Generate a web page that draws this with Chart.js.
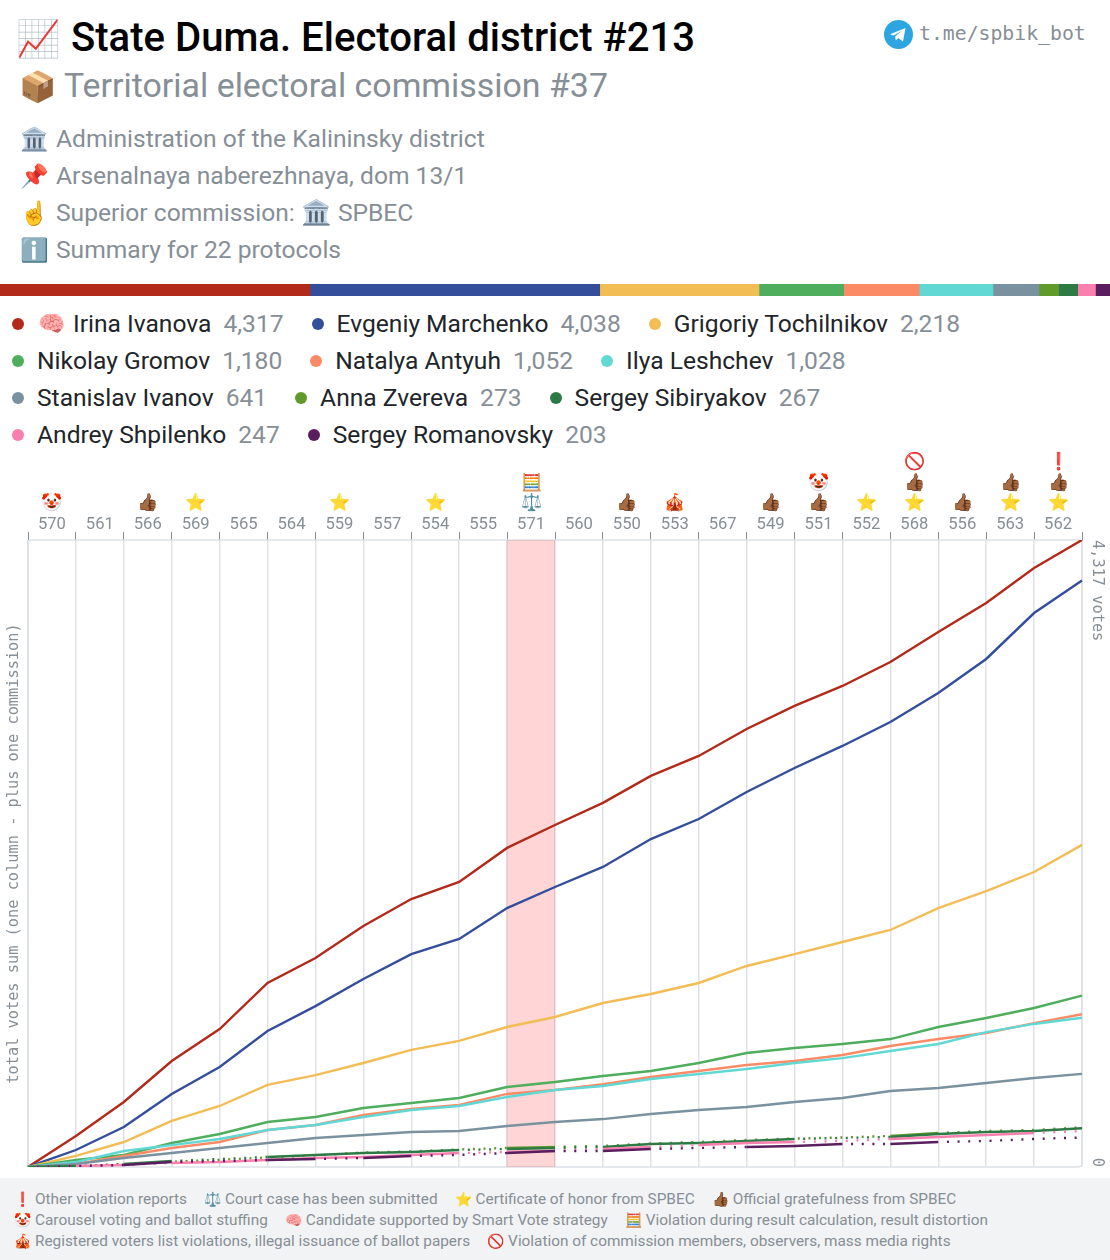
<!DOCTYPE html>
<html>
<head>
<meta charset="utf-8">
<script src="https://cdn.jsdelivr.net/npm/chart.js@4/dist/chart.umd.js"></script>
<style>
  html, body { margin: 0; padding: 0; background: #fff; }
  #page { position: relative; width: 1110px; height: 1260px; overflow: hidden; font-family: Roboto, sans-serif; color: #868e96; }
  #page > div, #page > canvas, #page > svg { position: absolute; }
  .row { left: 20px; font-size: 24.6px; line-height: 30px; white-space: nowrap; }
  .row .e { display: inline-block; width: 36px; font-size: 23px; }
  #title { left: 16px; top: 11px; font-size: 40.1px; font-weight: 500; line-height: 54px; color: #000; white-space: nowrap; }
  #title .e { display: inline-block; width: 55px; font-size: 36px; }
  #subtitle { left: 19px; top: 63px; font-size: 33.9px; line-height: 46px; white-space: nowrap; }
  #subtitle .e { display: inline-block; width: 45px; font-size: 30px; }
  #tg { left: 919px; top: 20px; font: 19.8px/28px "DejaVu Sans Mono", monospace; white-space: nowrap; }
  #legend { left: 12px; top: 305px; width: 1095px; display: flex; flex-wrap: wrap; font-size: 24.6px; line-height: 37px; }
  .item { display: flex; align-items: center; margin-right: 28px; white-space: nowrap; }
  .dot { width: 12px; height: 12px; border-radius: 50%; margin-right: 13px; flex: none; }
  .item b { font-weight: 400; color: #212529; margin-right: 12px; }
  .item .brain { font-size: 22px; margin: 0 8px 0 1px; }
  #footer { left: 0; top: 1178px; width: 1110px; height: 82px; background: #f2f3f4; }
  #notes { position: absolute; left: 14px; top: 11px; width: 1090px; display: flex; flex-wrap: wrap; font-size: 15.35px; line-height: 21px; }
  #notes span { margin-right: 17px; white-space: nowrap; }
  #notes i { font-style: normal; font-size: 14px; margin-right: 4px; }
</style>
</head>
<body>
<div id="page">
  <div id="title"><span class="e">📈</span>State Duma. Electoral district #213</div>
  <div id="subtitle"><span class="e">📦</span>Territorial electoral commission #37</div>
  <svg style="left:884px;top:20px" width="29" height="29" viewBox="0 0 29 29">
    <circle cx="14.5" cy="14.5" r="14.5" fill="#2ca5e0"/>
    <path d="M6 14.2 L21.5 8 L19 21.5 L14.2 18 L11.8 20.4 L11.2 16.2 L18.5 10.6 L9.6 15.6 Z" fill="#fff"/>
  </svg>
  <div id="tg">t.me/spbik_bot</div>
  <div class="row" style="top:124px"><span class="e">🏛️</span>Administration of the Kalininsky district</div>
  <div class="row" style="top:161px"><span class="e">📌</span>Arsenalnaya naberezhnaya, dom 13/1</div>
  <div class="row" style="top:198px"><span class="e">☝️</span>Superior commission: 🏛️ SPBEC</div>
  <div class="row" style="top:235px"><span class="e">ℹ️</span>Summary for 22 protocols</div>
  <canvas id="shares" width="1110" height="12" style="left:0;top:284px"></canvas>
  <div id="legend"></div>
  <canvas id="chart" width="1110" height="730" style="left:0;top:450px"></canvas>
  <div id="footer"><div id="notes"></div></div>
</div>

<script>
// commissions, in the order they are summed up
const commissions = ['570','561','566','569','565','564','559','557','554','555','571','560','550','553','567','549','551','552','568','556','563','562'];
const highlighted = ['571'];

// running totals, first point is the empty start of the chart
const ivanovaVotes = [0,213,448,730,950,1267,1439,1659,1845,1963,2197,2355,2507,2693,2830,3016,3175,3312,3477,3684,3883,4124,4317];
const marchenkoVotes = [0,117,275,503,688,936,1108,1294,1466,1570,1783,1928,2066,2258,2396,2582,2747,2899,3064,3264,3498,3814,4038];
const tochilnikovVotes = [0,76,172,317,420,565,633,716,806,868,964,1033,1129,1191,1267,1384,1466,1549,1632,1783,1900,2031,2218];
const gromovVotes = [0,48,83,165,227,310,344,406,441,475,551,585,627,661,716,785,819,847,881,964,1026,1095,1180];
const antyuhVotes = [0,21,76,131,172,255,289,358,399,427,503,530,571,620,661,702,730,771,833,881,923,991,1052];
const leshchevVotes = [0,34,110,151,193,255,289,344,392,420,482,530,558,606,640,675,716,750,799,847,929,985,1028];
const sIvanovVotes = [0,21,62,96,131,165,200,220,241,248,282,310,330,365,392,413,448,475,523,544,578,613,641];
const zverevaVotes = [0,5,15,35,50,65,80,100,107,121,131,138,145,162,172,186,196,203,214,234,248,255,273];
const sibiryakovVotes = [0,7,21,41,55,69,83,96,103,117,124,131,138,158,165,179,193,200,207,227,241,248,267];
const shpilenkoVotes = [0,7,14,28,34,48,62,69,83,96,103,110,124,138,151,165,172,179,193,207,220,234,247];
const romanovskyVotes = [0,7,14,34,41,48,55,62,76,83,96,110,110,124,131,138,145,158,158,172,179,193,203];

const candidateNames = ['Irina Ivanova','Evgeniy Marchenko','Grigoriy Tochilnikov','Nikolay Gromov','Natalya Antyuh','Ilya Leshchev','Stanislav Ivanov','Anna Zvereva','Sergey Sibiryakov','Andrey Shpilenko','Sergey Romanovsky'];
const candidateVotes = [ivanovaVotes,marchenkoVotes,tochilnikovVotes,gromovVotes,antyuhVotes,leshchevVotes,sIvanovVotes,zverevaVotes,sibiryakovVotes,shpilenkoVotes,romanovskyVotes];
const candidateColors = ['#b22a1a','#344e9c','#f2bd55','#4eae5d','#fb8b66','#62d8d4','#7a929f','#5f9a2b','#2e7a45','#f87fae','#5a1e5e'];

// columns where the line is only dotted
const dottedColumns = [[],[],[],[],[],[],[],
  [0,1,2,3,4,5,6,7,8,9,11,12,13,14,15,16,17,19,20,21],
  [1,3,4,9,11,16,17],
  [0,2,9,11,13,16,17,21],
  [0,1,3,4,6,8,9,11,13,14,17,19,20,21]];

// marks over each commission, from the axis up
const commissionMarks = [['🤡'],[],['👍🏾'],['⭐'],[],[],['⭐'],[],['⭐'],[],['⚖️','🧮'],[],['👍🏾'],['🎪'],[],['👍🏾'],['👍🏾','🤡'],['⭐'],['⭐','👍🏾','🚫'],['👍🏾'],['⭐','👍🏾'],['⭐','👍🏾','❗']];

const noteMarks = ['❗','⚖️','⭐','👍🏾','🤡','🧠','🧮','🎪','🚫'];
const noteTexts = ['Other violation reports','Court case has been submitted','Certificate of honor from SPBEC','Official gratefulness from SPBEC','Carousel voting and ballot stuffing','Candidate supported by Smart Vote strategy','Violation during result calculation, result distortion','Registered voters list violations, illegal issuance of ballot papers','Violation of commission members, observers, mass media rights'];

const MONO = '"DejaVu Sans Mono", monospace';
const GREY = '#868e96';
const LINE = '#dde1e7';

const totals = candidateVotes.map(v => v[v.length - 1]);
const fmt = n => n.toLocaleString('en-US');

document.getElementById('legend').innerHTML = candidateNames.map((name, i) =>
  `<div class="item"><span class="dot" style="background:${candidateColors[i]}"></span>` +
  (i === 0 ? '<span class="brain">🧠</span>' : '') +
  `<b>${name}</b>${fmt(totals[i])}</div>`).join('');

document.getElementById('notes').innerHTML = noteTexts.map((t, i) =>
  `<span><i>${noteMarks[i]}</i>${t}</span>`).join('');

// stacked strip under the header
new Chart(document.getElementById('shares'), {
  type: 'bar',
  data: {
    labels: ['votes'],
    datasets: candidateNames.map((name, i) => ({ label: name, data: [totals[i]], backgroundColor: candidateColors[i], barPercentage: 1, categoryPercentage: 1 })),
  },
  options: {
    indexAxis: 'y',
    responsive: false,
    animation: false,
    plugins: { legend: { display: false }, tooltip: { enabled: false } },
    scales: {
      x: { display: false, stacked: true, min: 0, max: totals.reduce((a, b) => a + b, 0) },
      y: { display: false, stacked: true },
    },
  },
});

// frame, marks over the axis and the rotated labels on the right
const decorations = {
  id: 'decorations',
  beforeDatasetsDraw(chart) {
    const { ctx, chartArea: a } = chart;
    ctx.save();
    ctx.strokeStyle = LINE;
    ctx.lineWidth = 1.5;
    ctx.beginPath();
    ctx.roundRect(a.left, a.top, a.right - a.left, a.bottom - a.top, 4);
    ctx.stroke();
    ctx.restore();
  },
  afterDraw(chart) {
    const { ctx, scales } = chart;
    ctx.save();
    ctx.font = '17px Roboto';
    ctx.textAlign = 'center';
    ctx.textBaseline = 'middle';
    commissionMarks.forEach((marks, i) => {
      const x = scales.x2.getPixelForTick(i);
      marks.forEach((m, level) => ctx.fillText(m, x, 54 - level * 20.5));
    });
    ctx.fillStyle = GREY;
    ctx.font = '15.3px ' + MONO;
    const rx = scales.y2.left + 15;
    ctx.translate(rx, scales.y2.getPixelForValue(ivanovaVotes[22]));
    ctx.rotate(Math.PI / 2);
    ctx.textAlign = 'left';
    ctx.fillText(fmt(totals[0]) + ' votes', 0, 0);
    ctx.rotate(-Math.PI / 2);
    ctx.translate(0, scales.y2.getPixelForValue(0) - scales.y2.getPixelForValue(ivanovaVotes[22]));
    ctx.rotate(Math.PI / 2);
    ctx.textAlign = 'right';
    ctx.fillText('0', 0, 0);
    ctx.restore();
  },
};

const lineSets = candidateNames.map((name, i) => ({
  type: 'line',
  label: name,
  data: candidateVotes[i],
  xAxisID: 'x',
  yAxisID: 'y',
  borderColor: candidateColors[i],
  borderWidth: 2.4,
  pointRadius: 0,
  tension: 0,
  order: -i,
  segment: {
    borderDash: c => dottedColumns[i].includes(c.p0DataIndex) ? [2, 8.65] : undefined,
    borderDashOffset: c => dottedColumns[i].includes(c.p0DataIndex) ? 2 : undefined,
  },
}));

new Chart(document.getElementById('chart'), {
  data: {
    labels: ivanovaVotes.map((v, i) => i),
    datasets: [{
      type: 'bar',
      label: 'highlighted',
      data: commissions.map(c => highlighted.includes(c) ? totals[0] : null),
      xAxisID: 'x2',
      yAxisID: 'y',
      backgroundColor: 'rgba(255,0,0,0.165)',
      barPercentage: 1,
      categoryPercentage: 1,
      grouped: false,
      order: 100,
    }, ...lineSets],
  },
  plugins: [decorations],
  options: {
    responsive: false,
    animation: false,
    layout: { padding: 0 },
    plugins: { legend: { display: false }, tooltip: { enabled: false } },
    scales: {
      x: {
        type: 'category',
        position: 'bottom',
        offset: false,
        labels: ivanovaVotes.map((v, i) => String(i)),
        ticks: { display: false },
        grid: { color: LINE, drawTicks: false, lineWidth: 1.5 },
        border: { display: false },
        afterFit: s => { s.height = 13; },
      },
      x2: {
        type: 'category',
        position: 'top',
        offset: true,
        labels: commissions,
        ticks: { color: GREY, font: { family: 'Roboto', size: 16.6 }, autoSkip: false, maxRotation: 0, padding: -3 },
        grid: { drawOnChartArea: false, color: GREY, tickColor: GREY, tickLength: 8 },
        border: { display: false },
        afterFit: s => { s.height = 90; },
      },
      y: {
        position: 'left',
        min: 0,
        max: totals[0],
        ticks: { display: false },
        grid: { display: false },
        border: { display: false },
        title: { display: true, text: 'total votes sum (one column - plus one commission)', color: GREY, font: { family: MONO, size: 15.3 }, padding: { top: 5, bottom: 0 } },
        afterFit: s => { s.width = 28; },
      },
      y2: {
        position: 'right',
        min: 0,
        max: totals[0],
        ticks: { display: false },
        grid: { display: false },
        border: { display: false },
        afterFit: s => { s.width = 28; },
      },
    },
  },
});
</script>
</body>
</html>
